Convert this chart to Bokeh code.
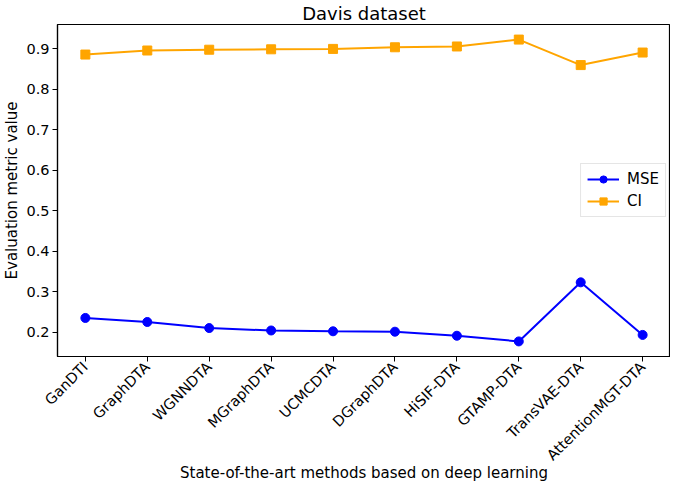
import math
from bokeh.plotting import figure
from bokeh.models import Range1d, FixedTicker, Legend, LegendItem
from bokeh.embed import file_html
from bokeh.resources import INLINE

methods = ["GanDTI", "GraphDTA", "WGNNDTA", "MGraphDTA", "UCMCDTA", "DGraphDTA",
           "HiSIF-DTA", "GTAMP-DTA", "TransVAE-DTA", "AttentionMGT-DTA"]
mse = [0.235, 0.225, 0.210, 0.204, 0.202, 0.201, 0.191, 0.177, 0.323, 0.193]
ci = [0.886, 0.896, 0.898, 0.899, 0.900, 0.904, 0.906, 0.923, 0.860, 0.891]
y_ticks = [0.2, 0.3, 0.4, 0.5, 0.6, 0.7, 0.8, 0.9]
x_title = "State-of-the-art methods based on deep learning"
y_title = "Evaluation metric value"

x = list(range(len(methods)))
all_y = mse + ci
span = max(all_y) - min(all_y)
ylo = min(all_y) - 0.05 * span
yhi = max(all_y) + 0.05 * span
xspan = len(methods) - 1

FONT = "DejaVu Sans"

p = figure(width=670, height=484, output_backend="svg", toolbar_location=None,
           x_range=Range1d(-0.05 * xspan, xspan + 0.05 * xspan),
           y_range=Range1d(ylo, yhi),
           title="Davis dataset",
           min_border_left=10, min_border_right=0, min_border_top=0, min_border_bottom=0)

p.title.align = "center"
p.title.text_font = FONT
p.title.text_font_size = "18px"
p.title.text_font_style = "normal"
p.title.text_color = "black"
p.title.standoff = 1

p.xgrid.visible = False
p.ygrid.visible = False
p.outline_line_color = "black"
p.outline_line_width = 1.2

for ax in (p.xaxis[0], p.yaxis[0]):
    ax.axis_line_color = "black"
    ax.axis_line_width = 1.2
    ax.major_tick_line_color = "black"
    ax.major_tick_out = 5
    ax.major_tick_in = 0
    ax.minor_tick_line_color = None
    ax.major_label_text_font = FONT
    ax.major_label_text_font_size = "14.5px"
    ax.major_label_text_color = "black"
    ax.axis_label_text_font = FONT
    ax.axis_label_text_font_size = "15px"
    ax.axis_label_text_font_style = "normal"
    ax.axis_label_text_color = "black"

p.xaxis.ticker = FixedTicker(ticks=x)
p.xaxis.major_label_overrides = {i: m for i, m in zip(x, methods)}
p.xaxis.major_label_orientation = math.pi / 4
p.xaxis.major_label_standoff = 3
p.xaxis.axis_label = x_title
p.xaxis.axis_label_standoff = -8

p.yaxis.ticker = FixedTicker(ticks=y_ticks)
p.yaxis.major_label_overrides = {t: f"{t:.1f}" for t in y_ticks}
p.yaxis.major_label_standoff = 3
p.yaxis.axis_label = y_title
p.yaxis.axis_label_standoff = 2

l1 = p.line(x, mse, line_color="blue", line_width=2)
s1 = p.scatter(x, mse, marker="circle", size=9, fill_color="blue", line_color="blue")
l2 = p.line(x, ci, line_color="orange", line_width=2)
s2 = p.scatter(x, ci, marker="square", size=9, fill_color="orange", line_color="orange")

legend = Legend(items=[LegendItem(label="MSE", renderers=[l1, s1]),
                       LegendItem(label="CI", renderers=[l2, s2])],
                location="right")
legend.label_text_font = FONT
legend.label_text_font_size = "15px"
legend.label_text_color = "black"
legend.glyph_width = 32
legend.glyph_height = 18
legend.spacing = 4
legend.padding = 6
legend.margin = 4
legend.label_standoff = 8
legend.border_line_color = "#cccccc"
legend.border_line_width = 1
legend.background_fill_alpha = 0.8
p.add_layout(legend)

open("out.html", "w").write(file_html(p, INLINE))
